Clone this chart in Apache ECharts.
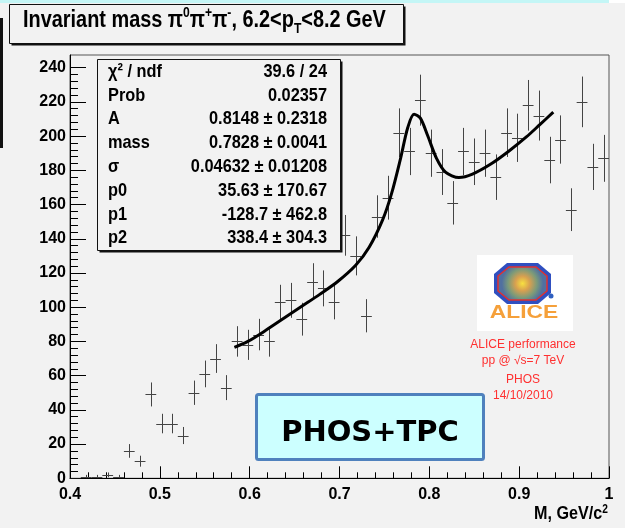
<!DOCTYPE html>
<html><head><meta charset="utf-8">
<script src="https://cdn.jsdelivr.net/npm/echarts@6/dist/echarts.min.js"></script>
<style>html,body{margin:0;padding:0;background:#f2f2f2}#c{width:625px;height:528px}</style>
</head><body><div id="c"></div><script>
// ---- data ----
const binCenters = [0.406,0.418,0.430,0.442,0.454,0.466,0.478,0.490,0.502,0.514,0.526,0.538,0.550,0.562,0.574,0.586,0.598,0.610,0.622,0.634,0.646,0.658,0.670,0.682,0.694,0.706,0.718,0.730,0.742,0.754,0.766,0.778,0.790,0.802,0.814,0.826,0.838,0.850,0.862,0.874,0.886,0.898,0.910,0.922,0.934,0.946,0.958,0.970,0.982,0.994];
const counts = [0,1,1,2,1,16,10,49,32,32,25,50,61,70,53,80,78,84,80,103,104,93,115,111,103,142,130,95,153,164,202,191,221,190,179,161,191,185,190,176,202,199,218,212,186,198,157,220,182,187];
const errors = [0,1,1,1.4,1,4,3.2,7,5.7,5.7,5,7.1,7.8,8.4,7.3,8.9,8.8,9.2,8.9,10.1,10.2,9.6,10.7,10.5,10.1,11.9,11.4,9.7,12.4,12.8,14.2,13.8,14.9,13.8,13.4,12.7,13.8,13.6,13.8,13.3,14.2,14.1,14.8,14.6,13.6,14.1,12.5,14.8,13.5,13.7];
const halfBin = 0.006;
const fitM = [0.583,0.598,0.618,0.638,0.658,0.678,0.698,0.718,0.733,0.748,0.758,0.768,0.776,0.783,0.790,0.798,0.808,0.818,0.833,0.848,0.868,0.888,0.908,0.923,0.938];
const fitY = [76.5,80,86.5,93.5,100.5,107.5,115,124.5,135,151,166.5,187,205,212.8,210.5,200.5,187,179,175.8,177.8,183.5,191,199.5,206.7,214];
const xTickLabels = ['0.4','0.5','0.6','0.7','0.8','0.9','1'];
const yTickLabels = ['0','20','40','60','80','100','120','140','160','180','200','220','240'];
const statLabels = ['χ² / ndf','Prob','A','mass','σ','p0','p1','p2'];
const statValues = ['39.6 / 24','0.02357','0.8148 ± 0.2318','0.7828 ± 0.0041','0.04632 ± 0.01208','35.63 ± 170.67','-128.7 ± 462.8','338.4 ± 304.3'];
const aliceLines = ['ALICE performance','pp @ √s=7 TeV','PHOS','14/10/2010'];

// ---- chart ----
const SANS = '"Liberation Sans",Arial,sans-serif';
const chart = echarts.init(document.getElementById('c'), null, {renderer:'canvas'});
const pts = binCenters.map((m,i)=>[m, counts[i], errors[i]]);
const fit = fitM.map((m,i)=>[m, fitY[i]]);

const graphic = [];
// decorations of the slide
graphic.push({type:'rect', shape:{x:0,y:0,width:609,height:3}, style:{fill:'#c4f6f6'}, z:100});
graphic.push({type:'rect', shape:{x:609,y:0,width:16,height:3}, style:{fill:'#ffffff'}, z:100});
graphic.push({type:'rect', shape:{x:0,y:18,width:3,height:130}, style:{fill:'#111'}, z:100});
// title box
graphic.push({type:'rect', shape:{x:11.5,y:6.5,width:394,height:39}, style:{fill:'#111'}, z:100});
graphic.push({type:'rect', shape:{x:9.5,y:4.5,width:394,height:39}, style:{fill:'#f2f2f2', stroke:'#111', lineWidth:1}, z:101});
graphic.push({type:'text', x:23, y:21, scaleX:0.865, z:102, style:{
  text:'{b|Invariant mass π}{sup|0}{b|π}{sup|+}{b|π}{sup|-}{b|, 6.2<p}{sub|T}{b|<8.2 GeV}',
  verticalAlign:'middle', align:'left',
  rich:{
    b:{fontFamily:SANS, fontWeight:'bold', fontSize:23, lineHeight:30, fill:'#000'},
    sup:{fontFamily:SANS, fontWeight:'bold', fontSize:14, verticalAlign:'top', lineHeight:14, fill:'#000'},
    sub:{fontFamily:SANS, fontWeight:'bold', fontSize:14, verticalAlign:'bottom', lineHeight:14, fill:'#000'}
  }}});
// stats box
graphic.push({type:'rect', shape:{x:99.5,y:61.5,width:243,height:191}, style:{fill:'#111'}, z:100});
graphic.push({type:'rect', shape:{x:97.5,y:59.5,width:243,height:191}, style:{fill:'#f2f2f2', stroke:'#111', lineWidth:1}, z:101});
statLabels.forEach((t,i)=>{
  const y = 71.5 + 23.8*i;
  graphic.push({type:'text', x:108, y:y, scaleX:0.86, z:102, style:{text:t, fill:'#000', font:'bold 19px '+SANS, verticalAlign:'middle', align:'left'}});
  graphic.push({type:'text', x:327, y:y, scaleX:0.86, z:102, style:{text:statValues[i], fill:'#000', font:'bold 19px '+SANS, verticalAlign:'middle', align:'right'}});
});
// ALICE logo
graphic.push({type:'rect', shape:{x:477,y:255,width:96,height:76}, style:{fill:'#ffffff'}, z:100});
graphic.push({type:'polygon', shape:{points:[[507,263],[538,263],[551,274],[551,293],[538,304],[507,304],[494,293],[494,274]]}, style:{fill:'#2f4fc0'}, z:101});
graphic.push({type:'polygon', shape:{points:[[509,267],[536,267],[547,276],[547,291],[536,300],[509,300],[498,291],[498,276]]},
  style:{fill:new echarts.graphic.RadialGradient(0.5,0.5,0.6,[{offset:0,color:'#f8e040'},{offset:0.35,color:'#d8a050'},{offset:0.7,color:'#7a9a7a'},{offset:1,color:'#5070a0'}]), stroke:'#e03030', lineWidth:1.5}, z:102});
graphic.push({type:'circle', shape:{cx:551,cy:296,r:2.5}, style:{fill:'#3060c0'}, z:103});
graphic.push({type:'text', x:524, y:313, scaleX:1.2, z:103, style:{text:'ALICE', fill:'#f5a03a', font:'bold 19px '+SANS, align:'center', verticalAlign:'middle'}});
aliceLines.forEach((t,i)=>{
  graphic.push({type:'text', x:523, y:[345,361,379.5,395.5][i], z:103, style:{text:t, fill:'#ff3030', font:'12px '+SANS, align:'center', verticalAlign:'middle'}});
});
// PHOS+TPC box
graphic.push({type:'rect', shape:{x:256.5,y:394.5,width:227,height:65, r:2}, style:{fill:'#ccffff', stroke:'#4f81bd', lineWidth:3}, z:100});
graphic.push({type:'text', x:370, y:433.5, z:101, style:{text:'PHOS+TPC', fill:'#000', font:'bold 29px "DejaVu Sans",sans-serif', align:'center', verticalAlign:'middle'}});
// x-axis title
graphic.push({type:'text', x:608, y:524, scaleX:0.85, z:101, style:{
  text:'{b|M, GeV/c}{sup|2}', align:'right', verticalAlign:'bottom',
  rich:{
    b:{fontFamily:SANS, fontWeight:'bold', fontSize:19, lineHeight:20, fill:'#000'},
    sup:{fontFamily:SANS, fontWeight:'bold', fontSize:12, verticalAlign:'top', lineHeight:12, fill:'#000'}
  }}});

const axisFont = {fontFamily:SANS, fontWeight:'bold', fontSize:16, color:'#000'};
const yMaxFrame = (478.3-55)/1.711;

chart.setOption({
  backgroundColor:'#f2f2f2',
  animation:false,
  grid:[
    {left:70, right:16, top:55, bottom:49.7, show:true, borderColor:'#555', borderWidth:1, backgroundColor:'transparent'},
    {left:70, right:16, top:478.3-240*1.711, bottom:49.7, show:false}
  ],
  xAxis:[
    {type:'value', gridIndex:0, min:0.4, max:1.0, interval:0.1,
     axisLine:{show:true, lineStyle:{color:'#000', width:1}},
     axisTick:{show:true, inside:true, length:12, lineStyle:{color:'#000'}},
     minorTick:{show:true, splitNumber:5, length:6, lineStyle:{color:'#000'}},
     splitLine:{show:false}, minorSplitLine:{show:false},
     axisLabel:Object.assign({margin:8, formatter:(v)=>xTickLabels[Math.round((v-0.4)*10)]||''}, axisFont)},
    {type:'value', gridIndex:1, min:0.4, max:1.0, show:false}
  ],
  yAxis:[
    {type:'value', gridIndex:0, min:0, max:yMaxFrame,
     axisLine:{show:true, lineStyle:{color:'#000', width:1}},
     axisTick:{show:false}, axisLabel:{show:false}, splitLine:{show:false}},
    {type:'value', gridIndex:1, min:0, max:240, interval:20,
     axisLine:{show:false},
     axisTick:{show:true, inside:true, length:16, lineStyle:{color:'#000'}},
     minorTick:{show:true, splitNumber:5, length:8, lineStyle:{color:'#000'}},
     splitLine:{show:false}, minorSplitLine:{show:false},
     axisLabel:Object.assign({margin:4, formatter:(v)=>yTickLabels[Math.round(v/20)]||''}, axisFont)}
  ],
  series:[
    {type:'custom', xAxisIndex:0, yAxisIndex:0, data:pts, clip:true, z:3,
     renderItem:function(params, api){
       const x = api.value(0), y = api.value(1), e = api.value(2);
       const c = api.coord([x,y]);
       const lo = api.coord([x, y-e]);
       const hi = api.coord([x, y+e]);
       const l = api.coord([x-halfBin, y]);
       const r = api.coord([x+halfBin, y]);
       const cx = Math.round(c[0])+0.5, cy = Math.round(c[1])+0.5;
       return {type:'group', children:[
         {type:'line', shape:{x1:cx,y1:lo[1],x2:cx,y2:hi[1]}, style:{stroke:'#444', lineWidth:1}},
         {type:'line', shape:{x1:l[0],y1:cy,x2:r[0],y2:cy}, style:{stroke:'#444', lineWidth:1}}
       ]};
     }},
    {type:'line', xAxisIndex:0, yAxisIndex:0, data:fit, smooth:0.3, showSymbol:false, symbol:'none', z:4,
     lineStyle:{color:'#000', width:3}}
  ],
  graphic:graphic
});
</script></body></html>
